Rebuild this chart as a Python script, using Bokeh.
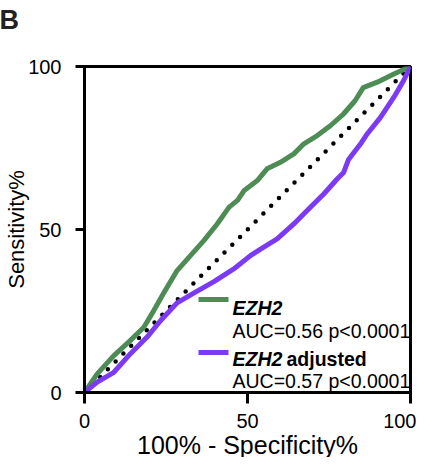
from bokeh.plotting import figure
from bokeh.models import FixedTicker, Label, Title
from bokeh.embed import file_html
from bokeh.resources import INLINE

# ---- data ----
ezh2_fpr = [0, 3.9, 9, 14.1, 18.2, 21.3, 24.3, 28.4, 32.5, 36.6, 40.7, 44.3, 47, 49,
            53, 56, 60.1, 64.2, 67.3, 71.4, 75.5, 79.5, 83, 85.5, 89.8, 94.9, 100]
ezh2_tpr = [0, 5.7, 11.3, 16, 20, 25.2, 30.5, 37.4, 42, 46.6, 51.7, 56.8, 59, 62,
            65, 68.6, 70.6, 73.2, 76.3, 78.8, 81.9, 85.5, 89.5, 93.5, 95.2, 97.7, 100]

adj_fpr = [0, 3.9, 9, 14.1, 19.2, 23.3, 28.4, 33.5, 39.7, 45.8, 50.9, 54, 59.1, 64.2,
           69.3, 73.4, 77.5, 79.5, 81, 84.7, 86.7, 90.8, 94.9, 97.9, 100]
adj_tpr = [0, 3.2, 6.2, 11.9, 17, 22, 27.5, 30.5, 34, 37.9, 42, 44, 47.1, 51.7,
           56.8, 60.9, 65.5, 67.5, 71.5, 76.3, 79.3, 84.4, 90.6, 95.7, 100]

chance = [0, 100]
ticks = [0, 50, 100]
tick_labels = {0: "0", 50: "50", 100: "100"}

GREEN = "#4e8c56"
PURPLE = "#7c3af5"
FONT = "Liberation Sans"

p = figure(width=416, height=457, x_range=(0, 100), y_range=(0, 100),
           output_backend="svg", toolbar_location=None,
           min_border_left=84, min_border_right=6, min_border_top=66,
           min_border_bottom=65)
p.background_fill_color = "white"
p.border_fill_color = "white"
p.grid.visible = False
p.outline_line_color = "black"
p.outline_line_width = 3

# panel letter (outermost title); a blank spacer title sits between it and the frame
p.title.text = "B"
p.title.align = "left"
p.title.offset = -85
p.title.standoff = 0
p.title.text_font = FONT
p.title.text_font_size = "27px"
p.title.text_font_style = "bold"
p.title.text_color = "#222222"
p.add_layout(Title(text=" ", text_font=FONT, text_font_size="10px", standoff=19),
             "above")

for ax in (p.xaxis[0], p.yaxis[0]):
    ax.ticker = FixedTicker(ticks=ticks)
    ax.major_label_overrides = tick_labels
    ax.axis_line_width = 3
    ax.axis_line_color = "black"
    ax.major_tick_line_width = 3
    ax.major_tick_line_color = "black"
    ax.major_tick_in = 0
    ax.minor_tick_line_color = None
    ax.major_label_text_font = FONT
    ax.major_label_text_font_size = "20px"
    ax.major_label_text_color = "black"
    ax.axis_label_text_font = FONT
    ax.axis_label_text_font_style = "normal"
    ax.axis_label_text_color = "black"

p.xaxis.major_tick_out = 11
p.yaxis.major_tick_out = 9
p.xaxis.major_label_standoff = 10
p.yaxis.major_label_standoff = 14
p.yaxis.axis_label = "Sensitivity%"
p.yaxis.axis_label_text_font_size = "22px"
p.yaxis.axis_label_standoff = -4

# x-axis title as a below-panel title (slightly right of centre, as in the reference)
p.add_layout(Title(text="100% - Specificity%", align="center", offset=14,
                   standoff=-4, text_font=FONT,
                   text_font_size="25px", text_font_style="normal",
                   text_color="black"), "below")

# chance line (dotted)
p.line(chance, chance, line_color="black", line_width=4.5, line_dash="0 11",
       line_cap="round")
# ROC curves
p.line(ezh2_fpr, ezh2_tpr, line_color=GREEN, line_width=5, line_join="round")
p.line(adj_fpr, adj_tpr, line_color=PURPLE, line_width=5, line_join="round",
       line_cap="round")

# legend swatches (positioned in screen px relative to frame)
FRAME_PX = 326.0
def sx(px):
    return px / FRAME_PX * 100
p.line([sx(114), sx(144)], [sx(93), sx(93)], line_color=GREEN, line_width=5)
p.line([sx(114), sx(144)], [sx(40), sx(40)], line_color=PURPLE, line_width=5)

def lab(x, y, text, size="19.5px", style="normal"):
    p.add_layout(Label(x=x, y=y, x_units="screen", y_units="screen", text=text,
                       text_font=FONT, text_font_size=size, text_font_style=style,
                       text_color="black", text_baseline="alphabetic",
                       text_align="left"))

lab(148, 85, "EZH2", style="bold italic")
lab(148, 62, "AUC=0.56 p<0.0001")
lab(148, 34, "EZH2", style="bold italic")
lab(202, 34, "adjusted", style="bold")
lab(148, 12, "AUC=0.57 p<0.0001")

open("out.html", "w").write(file_html(p, INLINE))
